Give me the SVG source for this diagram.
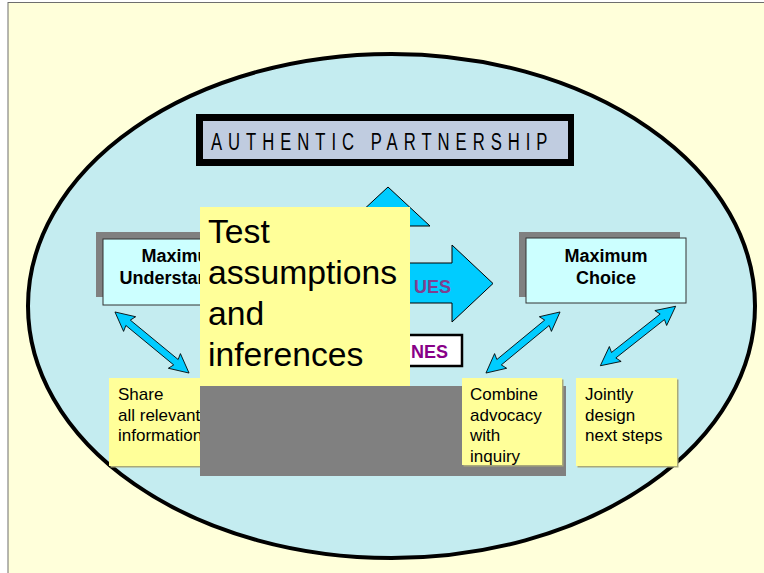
<svg xmlns="http://www.w3.org/2000/svg" width="764" height="573" viewBox="0 0 764 573">
  <defs>
    <style>
      .note { fill: #FFFF99; }
      .note-shadow { fill: #A9A97A; }
      .note-text { font-family: "Liberation Sans", Arial, sans-serif; font-size: 17px; fill: #000; }
      .box { fill: #CCFFFF; stroke: #333; stroke-width: 1; }
      .box-shadow { fill: #808080; }
      .box-text { font-family: "Liberation Sans", Arial, sans-serif; font-size: 18px; font-weight: bold; fill: #000; text-anchor: middle; }
      .flow { fill: #00CCFF; stroke: #000; stroke-width: 1; }
      .tag { font-family: "Liberation Sans", Arial, sans-serif; font-size: 18px; font-weight: bold; }
    </style>
    <!-- two-headed arrow, 96 long, centred on the origin -->
    <polygon id="dbl-arrow" points="-48,0 -29,-9.5 -31,-3.5 31,-3.5 29,-9.5 48,0 29,9.5 31,3.5 -31,3.5 -29,9.5" fill="#00CCFF" stroke="#000" stroke-width="0.8"/>
  </defs>

  <!-- slide background -->
  <rect x="0" y="0" width="764" height="573" fill="#FFFFFF"/>
  <rect x="8" y="2.5" width="770" height="580" fill="#FFFFDA" stroke="#6E6E6E" stroke-width="1"/>

  <!-- outer ellipse -->
  <ellipse cx="391.5" cy="306" rx="363.5" ry="252" fill="#C4ECF0" stroke="#000" stroke-width="4"/>

  <!-- title banner -->
  <g id="authentic-partnership">
    <rect x="196" y="114" width="378" height="52" fill="#000"/>
    <rect x="203" y="121" width="365" height="38" fill="#C0CCE0"/>
    <text transform="translate(211,150) scale(0.68,1)" font-family="'Liberation Sans', Arial, sans-serif" font-size="24.5" letter-spacing="8.8" fill="#000">AUTHENTIC PARTNERSHIP</text>
  </g>

  <!-- block arrows -->
  <g id="flows">
    <polygon class="flow" points="388,187 430,226 409,226 409,300 367,300 367,226 346,226"/>
    <polygon class="flow" points="395,263 452,263 452,245 493,283.5 452,322 452,303 395,303"/>
    <text class="tag" x="414" y="293" fill="#7F3F8F">UES</text>
    <rect x="380" y="335" width="82" height="31" fill="#FFFFFF" stroke="#000" stroke-width="2.5"/>
    <text class="tag" x="411" y="358" fill="#880088">NES</text>
  </g>

  <g id="max-understanding">
    <rect class="box-shadow" x="96" y="232" width="160" height="65"/>
    <rect class="box" x="103" y="239" width="160" height="66"/>
    <text class="box-text" x="183" y="262">Maximum</text>
    <text class="box-text" x="183" y="284">Understanding</text>
  </g>

  <g id="max-choice">
    <rect class="box-shadow" x="519" y="232" width="161" height="65"/>
    <rect class="box" x="526" y="238" width="160" height="65"/>
    <text class="box-text" x="606" y="262">Maximum</text>
    <text class="box-text" x="606" y="284">Choice</text>
  </g>

  <!-- two-way connectors between boxes and notes -->
  <g id="connectors">
    <use href="#dbl-arrow" transform="translate(152,342.5) rotate(39.5)"/>
    <use href="#dbl-arrow" transform="translate(523,342.5) rotate(-39.5)"/>
    <use href="#dbl-arrow" transform="translate(638,336) rotate(-38.3)"/>
  </g>

  <g id="share-note">
    <rect class="note-shadow" x="110.5" y="379.5" width="100" height="88"/>
    <rect class="note" x="109" y="378" width="100" height="88"/>
    <text class="note-text" x="118" y="400">Share</text>
    <text class="note-text" x="118" y="420.5">all relevant</text>
    <text class="note-text" x="118" y="441">information</text>
  </g>

  <!-- grey backing panel -->
  <rect x="200" y="386" width="366" height="90" fill="#808080"/>

  <g id="combine-note">
    <rect class="note-shadow" x="463.5" y="379.5" width="100" height="87"/>
    <rect class="note" x="462" y="378" width="100" height="87"/>
    <text class="note-text" x="470" y="400">Combine</text>
    <text class="note-text" x="470" y="420.5">advocacy</text>
    <text class="note-text" x="470" y="441">with</text>
    <text class="note-text" x="470" y="461.5">inquiry</text>
  </g>

  <g id="jointly-note">
    <rect class="note-shadow" x="577.5" y="379.5" width="101" height="88"/>
    <rect class="note" x="576" y="378" width="101" height="88"/>
    <text class="note-text" x="585" y="400">Jointly</text>
    <text class="note-text" x="585" y="420.5">design</text>
    <text class="note-text" x="585" y="441">next steps</text>
  </g>

  <g id="test-note">
    <rect class="note" x="200" y="207" width="210" height="179"/>
    <g font-family="'Liberation Sans', Arial, sans-serif" font-size="33.7" fill="#000">
      <text x="208" y="243">Test</text>
      <text x="208" y="284">assumptions</text>
      <text x="208" y="325">and</text>
      <text x="208" y="365.5">inferences</text>
    </g>
  </g>
</svg>
